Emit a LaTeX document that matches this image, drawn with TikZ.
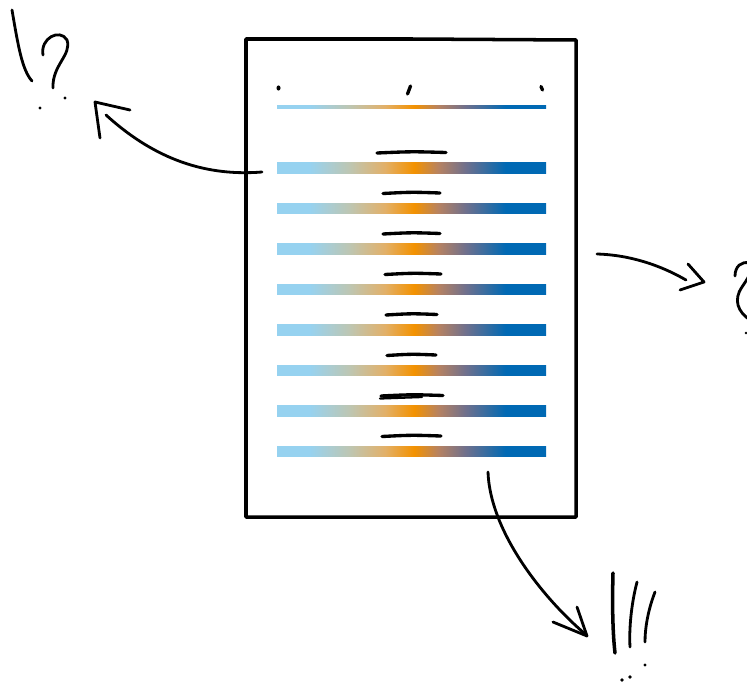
\documentclass[tikz,border=0pt]{standalone}
\usetikzlibrary{calc}
\definecolor{skyend}{RGB}{150,210,240}
\definecolor{sage}{RGB}{190,198,178}
\definecolor{sand}{RGB}{226,176,105}
\definecolor{amber}{RGB}{243,146,0}
\definecolor{clay}{RGB}{182,130,98}
\definecolor{slate}{RGB}{112,112,140}
\definecolor{deepblue}{RGB}{0,105,180}
\pgfdeclarehorizontalshading{barshade}{100bp}{%
  color(0bp)=(skyend); color(25bp)=(skyend); color(31bp)=(skyend);
  color(38.5bp)=(sage); color(45bp)=(sand); color(50.5bp)=(amber);
  color(55bp)=(clay); color(60bp)=(slate); color(67.5bp)=(deepblue);
  color(75bp)=(deepblue); color(100bp)=(deepblue)}
\tikzset{
  pen/.style={line width=1.6pt, line cap=round, line join=round},
  framepen/.style={line width=2pt, line join=round},
  dashpen/.style={line width=1.9pt, line cap=round},
  dotmark/.style={fill=black},
  gradbar/.style={shading=barshade}
}
\begin{document}
\begin{tikzpicture}[x=0.02cm, y=-0.02cm]
  \useasboundingbox (0,0) rectangle (747,683);
  \clip (0,0) rectangle (747,683);

  % page frame
  \draw[framepen] (246,39) -- (412,39) -- (576,40) -- (576,517) -- (246,517) -- cycle;

  % axis: thin gradient bar with three tick marks
  \fill[gradbar] (277,105) rectangle (546,108.5);
  \fill[dotmark] (278.5,88) ellipse (2 and 2.6);
  \draw[pen, line width=1.9pt] (407.5,94) -- (410.5,86);
  \draw[pen, line width=1.9pt] (541,86.5) -- (542.5,90);

  % gradient bars with a short stroke above each
  \foreach \yc/\xa/\xb in {168/377/446, 208.5/383/440, 249/383/440, 289.5/385/441,
                           330/386/437, 370.5/387/436, 411/381/443, 451.5/382/441}{
    \fill[gradbar] (277,\yc-5.3) rectangle (546,\yc+5.3);
    \draw[dashpen] (\xa,\yc-15) .. controls ({(\xa+\xb)/2},\yc-16.5) .. (\xb,\yc-15.5);
  }
  \draw[dashpen, line width=1.3pt] (380,398.5) -- (422,397);

  % left arrow and "!?"
  \draw[pen] (262,172) .. controls (200,177) and (150,155) .. (106,115);
  \draw[pen] (130,110) -- (95,102) -- (100,138);
  \draw[pen] (12,10) .. controls (18,45) and (22,70) .. (32,81);
  \fill[dotmark] (40,108) circle (1.7);
  \draw[pen] (43,55) .. controls (40,38) and (60,28) .. (67,40)
                     .. controls (72,55) and (52,65) .. (53,88);
  \fill[dotmark] (65,98) circle (1.7);

  % right arrow and a "?" running off the edge
  \draw[pen] (597,254) .. controls (630,255) and (660,265) .. (686,280);
  \draw[pen] (688,264) -- (704,282) -- (680,290);
  \draw[pen] (735,276) .. controls (735,266) and (742,261) .. (749,263)
             .. controls (755,268) and (748,278) .. (742,287)
             .. controls (733,300) and (738,312) .. (750,320);
  \fill[dotmark] (746,333) circle (1.4);

  % bottom arrow and "!!!"
  \draw[pen] (488,472) .. controls (490,530) and (540,595) .. (584,633);
  \draw[pen] (577,607) -- (587,636) -- (553,622);
  \draw[pen, line width=2pt] (613,573) .. controls (612,610) and (613,635) .. (615,653);
  \draw[pen] (637,582) .. controls (631,605) and (629,630) .. (630,647);
  \draw[pen] (655,592) .. controls (648,610) and (645,628) .. (645,642);
  \fill[dotmark] (622,680) circle (1.8);
  \fill[dotmark] (630,677) circle (1.8);
  \fill[dotmark] (645,665) circle (1.6);
\end{tikzpicture}
\end{document}
